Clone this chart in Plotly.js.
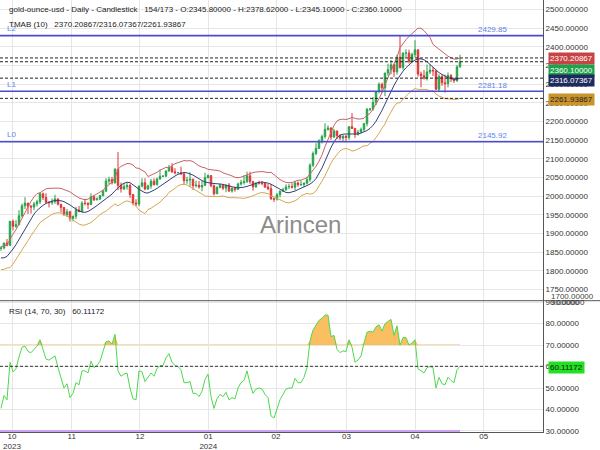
<!DOCTYPE html>
<html><head><meta charset="utf-8">
<script src="https://cdn.plot.ly/plotly-3.0.1.min.js"></script>
<style>html,body{margin:0;padding:0;background:#fff}#chart{width:600px;height:450px}</style>
</head><body><div id="chart"></div>
<script>
// ---- trading days (categories) ----
const daysOct2023 = [10,11,12,13,16,17,18,19,20,23,24,25,26,27,30,31];
const daysNov2023 = [1,2,3,6,7,8,9,10,13,14,15,16,17,20,21,22,23,24,27,28,29,30];
const daysDec2023 = [1,4,5,6,7,8,11,12,13,14,15,18,19,20,21,22,25,26,27,28,29];
const daysJan2024 = [1,2,3,4,5,8,9,10,11,12,15,16,17,18,19,22,23,24,25,26,29,30,31];
const daysFeb2024 = [1,2,5,6,7,8,9,12,13,14,15,16,19,20,21,22,23,26,27,28,29];
const daysMar2024 = [1,4,5,6,7,8,11,12,13,14,15,18,19,20,21,22,25,26,27,28,29];
const daysApr2024 = [1,2,3,4,5,8,9,10,11,12,15,16,17,18,19,22,23,24,25,26,29,30];
const daysMay2024 = [1,2,3,6,7,8,9,10];

// ---- OHLC ----
const open = [
1860.5,1860.9,1874.4,1868.5,1932.7,1919.4,1923.6,1947.6,1974.2,1981.4,
1972.9,1970.9,1979.2,1985.0,2006.3,1996.4,1983.9,1982.4,1985.6,1992.5,
1978.3,1969.8,1950.2,1958.2,1940.4,1946.4,1963.2,1958.9,1981.0,1980.5,
1977.8,1998.3,1990.2,1992.6,2001.5,2013.2,2040.5,2044.3,2036.2,2071.9,
2029.0,2019.2,2025.4,2028.3,2004.4,1981.6,1979.1,2027.2,2035.8,2019.3,
2027.5,2040.0,2030.9,2045.7,2053.1,2053.6,2067.5,2077.5,2065.3,2062.9,
2063.0,2059.1,2041.7,2043.1,2045.4,2028.0,2029.3,2024.4,2028.6,2049.1,
2055.2,2028.1,2006.3,2022.9,2029.3,2021.5,2029.6,2013.9,2020.9,2018.2,
2032.4,2036.7,2039.0,2054.8,2039.5,2024.9,2035.2,2035.0,2033.9,2024.4,
2020.1,1992.9,1991.8,2004.0,2013.2,2017.2,2024.8,2025.9,2024.1,2035.2,
2030.9,2031.1,2034.7,2044.1,2082.9,2114.3,2127.9,2148.1,2159.8,2178.8,
2182.7,2158.2,2174.7,2162.1,2155.5,2160.3,2157.2,2186.2,2181.4,2165.5,
2171.7,2178.6,2194.5,2232.7,2233.5,2251.4,2279.9,2299.6,2290.1,2329.7,
2338.6,2352.1,2333.2,2372.1,2344.3,2383.1,2383.5,2361.2,2379.3,2391.9,
2327.2,2322.4,2316.5,2332.4,2337.5,2335.7,2286.3,2320.2,2303.8,2301.3,
2323.4,2314.4,2309.3,2345.8];
const high = [
1865.8,1875.4,1885.3,1933.0,1937.4,1935.9,1962.5,1980.2,1997.2,1981.6,
1976.6,1984.6,1990.4,2009.4,2009.6,2007.8,1986.5,1993.8,2003.8,1994.3,
1979.0,1971.3,1965.8,1961.0,1947.2,1971.0,1973.8,1986.6,1993.1,1984.1,
2007.7,2002.4,1996.5,2003.1,2017.1,2048.0,2052.1,2051.5,2075.3,2118.0,
2036.6,2035.3,2035.0,2033.5,2005.2,1991.6,2028.4,2047.8,2047.7,2030.8,
2046.2,2047.6,2049.5,2071.3,2055.0,2068.7,2083.6,2088.5,2074.8,2064.0,
2079.0,2064.9,2052.0,2064.0,2046.7,2041.4,2040.8,2041.9,2062.6,2058.3,
2056.0,2031.4,2026.8,2034.0,2030.4,2031.6,2035.2,2023.3,2025.6,2036.2,
2043.9,2055.5,2065.6,2065.5,2040.4,2036.5,2041.0,2040.5,2037.6,2032.2,
2032.8,1996.3,2008.2,2015.2,2022.7,2031.6,2033.1,2034.6,2041.1,2039.6,
2041.6,2036.9,2052.1,2088.2,2119.6,2141.7,2152.4,2164.8,2195.2,2189.4,
2184.8,2180.1,2175.0,2165.3,2163.9,2163.4,2186.4,2222.6,2183.0,2176.8,
2183.7,2195.3,2236.1,2236.0,2265.6,2281.6,2305.0,2304.0,2330.6,2354.4,
2365.1,2354.8,2378.7,2431.5,2385.3,2393.4,2392.3,2384.4,2417.8,2392.7,
2333.6,2337.9,2352.5,2353.0,2345.8,2336.1,2326.4,2326.6,2325.4,2331.3,
2326.6,2318.0,2351.2,2378.62];
const low = [
1853.5,1857.6,1865.7,1866.1,1908.5,1914.6,1922.3,1942.5,1965.5,1952.4,
1953.6,1962.2,1972.3,1979.0,1989.7,1980.6,1970.0,1976.4,1979.5,1975.3,
1956.0,1947.3,1944.0,1931.9,1932.5,1938.3,1956.6,1956.7,1975.3,1965.3,
1975.7,1987.0,1988.8,1989.6,1999.3,2011.8,2031.9,2031.4,2033.4,2016.0,
2009.5,2016.6,2017.6,1995.5,1975.9,1973.2,1973.3,2023.2,2015.6,2016.4,
2019.8,2028.4,2028.3,2044.2,2051.8,2051.7,2065.7,2062.2,2058.1,2061.0,
2057.7,2030.6,2033.0,2024.0,2016.9,2023.4,2020.3,2013.3,2027.5,2048.2,
2023.8,2001.8,2005.9,2021.4,2016.1,2010.5,2011.0,2009.4,2012.0,2016.0,
2028.3,2030.9,2035.2,2032.9,2014.9,2022.5,2030.9,2029.0,2021.7,2016.2,
1990.1,1984.3,1988.2,1996.6,2011.0,2014.6,2019.0,2020.4,2016.0,2025.2,
2027.6,2024.3,2031.3,2038.5,2078.3,2109.9,2126.3,2141.0,2154.4,2175.4,
2150.6,2156.5,2152.6,2149.7,2146.7,2145.6,2150.7,2179.9,2155.9,2162.3,
2169.1,2172.3,2186.9,2228.0,2228.5,2243.4,2275.0,2275.9,2267.8,2321.6,
2326.1,2319.4,2325.5,2342.3,2338.5,2372.3,2355.3,2360.9,2372.1,2320.0,
2291.5,2311.9,2309.5,2327.2,2321.9,2285.5,2280.6,2295.6,2277.2,2291.3,
2305.7,2303.2,2306.0,2345.1];
const close = [
1860.9,1874.4,1868.5,1932.7,1919.4,1923.6,1947.6,1974.2,1981.4,1972.9,
1970.9,1979.2,1985.0,2006.3,1996.4,1983.9,1982.4,1985.6,1992.5,1978.3,
1969.8,1950.2,1958.2,1940.4,1946.4,1963.2,1958.9,1981.0,1980.5,1977.8,
1998.3,1990.2,1992.6,2001.5,2013.2,2040.5,2044.3,2036.2,2071.9,2029.0,
2019.2,2025.4,2028.3,2004.4,1981.6,1979.1,2027.2,2035.8,2019.3,2027.5,
2040.0,2030.9,2045.7,2053.1,2053.6,2067.5,2077.5,2065.3,2062.9,2063.0,
2059.1,2041.7,2043.1,2045.4,2028.0,2029.3,2024.4,2028.6,2049.1,2055.2,
2028.1,2006.3,2022.9,2029.3,2021.5,2029.6,2013.9,2020.9,2018.2,2032.4,
2036.7,2039.0,2054.8,2039.5,2024.9,2035.2,2035.0,2033.9,2024.4,2020.1,
1992.9,1991.8,2004.0,2013.2,2017.2,2024.8,2025.9,2024.1,2035.2,2030.9,
2031.1,2034.7,2044.1,2082.9,2114.3,2127.9,2148.1,2159.8,2178.8,2182.7,
2158.2,2174.7,2162.1,2155.5,2160.3,2157.2,2186.2,2181.4,2165.5,2171.7,
2178.6,2194.5,2232.7,2233.5,2251.4,2279.9,2299.6,2290.1,2329.7,2338.6,
2352.1,2333.2,2372.1,2344.3,2383.1,2383.5,2361.2,2379.3,2391.9,2327.2,
2322.4,2316.5,2332.4,2337.5,2335.7,2286.3,2320.2,2303.8,2301.3,2323.4,
2314.4,2309.3,2346.2,2360.1];

// ---- TMAB (10) bands ----
const tmabUpper = [
1865.5,1865.9,1869.7,1886.3,1898.4,1910.4,1925.6,1942.6,1958.5,1973.0,
1986.0,1998.0,2006.9,2009.1,2015.5,2019.5,2021.0,2021.6,2022.3,2021.6,
2020.7,2018.2,2015.8,2011.5,2005.6,2000.1,1995.3,1992.4,1990.7,1991.9,
1997.4,2002.1,2005.9,2010.6,2016.1,2024.0,2030.6,2037.5,2049.4,2072.1,
2079.9,2084.6,2087.3,2087.2,2083.3,2075.5,2074.5,2069.4,2065.1,2052.5,
2055.6,2059.1,2063.9,2069.6,2072.6,2077.1,2076.0,2082.5,2087.0,2089.6,
2093.1,2095.4,2094.4,2095.2,2092.5,2086.5,2081.2,2077.7,2076.0,2071.8,
2071.7,2070.0,2068.8,2067.3,2062.6,2060.1,2057.9,2054.2,2050.3,2049.4,
2050.9,2054.1,2057.2,2060.1,2063.1,2064.8,2066.0,2065.8,2064.8,2063.0,
2064.0,2056.6,2050.4,2044.5,2040.0,2036.8,2036.1,2036.5,2039.6,2042.6,
2042.9,2046.4,2049.4,2059.4,2069.4,2080.1,2093.5,2110.4,2132.8,2151.9,
2172.3,2189.3,2201.7,2205.4,2206.1,2205.5,2207.3,2210.8,2208.5,2206.5,
2206.9,2208.7,2216.8,2221.6,2233.6,2245.7,2260.5,2277.9,2299.7,2317.3,
2336.6,2353.6,2371.9,2397.7,2409.8,2419.0,2427.8,2434.7,2440.4,2449.9,
2449.8,2443.2,2434.0,2424.9,2406.4,2399.6,2394.0,2386.9,2381.1,2374.7,
2370.9,2367.0,2367.5,2370.20867];
const tmabMiddle = [
1834.5,1834.9,1838.7,1847.3,1858.4,1870.4,1883.6,1898.6,1913.5,1927.0,
1940.0,1952.0,1961.9,1969.1,1975.5,1980.5,1984.0,1986.6,1988.3,1988.6,
1987.7,1985.2,1981.8,1976.5,1970.6,1965.1,1960.3,1957.4,1956.7,1958.9,
1963.4,1969.1,1974.9,1980.6,1986.1,1992.0,1998.6,2005.5,2014.4,2023.1,
2029.9,2034.6,2037.3,2036.2,2031.3,2024.5,2018.5,2013.4,2009.1,2008.5,
2011.6,2016.1,2020.9,2026.6,2032.6,2038.1,2043.0,2048.5,2054.0,2058.6,
2062.1,2063.4,2062.4,2060.2,2056.5,2051.5,2046.2,2041.7,2038.0,2035.8,
2034.7,2034.0,2033.8,2033.3,2031.6,2029.1,2026.9,2025.2,2023.3,2022.4,
2022.9,2024.1,2026.2,2029.1,2032.1,2034.8,2037.0,2037.8,2036.8,2035.0,
2032.0,2027.6,2022.4,2017.5,2013.0,2009.8,2009.1,2010.5,2013.6,2017.6,
2021.9,2025.4,2028.4,2032.4,2038.4,2047.1,2059.5,2075.4,2093.8,2112.9,
2130.3,2145.3,2156.7,2163.4,2166.1,2166.5,2166.3,2165.8,2165.5,2166.5,
2168.9,2171.7,2175.8,2181.6,2189.6,2200.7,2214.5,2229.9,2246.7,2264.3,
2281.6,2296.6,2310.9,2323.7,2334.8,2344.0,2351.8,2358.7,2364.4,2367.9,
2367.8,2365.2,2360.0,2352.9,2344.4,2336.6,2331.0,2325.9,2321.1,2317.7,
2314.9,2313.0,2313.5,2316.07367];
const tmabLower = [
1803.5,1803.9,1807.7,1808.3,1818.4,1830.4,1841.6,1854.6,1868.5,1881.0,
1894.0,1906.0,1916.9,1929.1,1935.5,1941.5,1947.0,1951.6,1954.3,1955.6,
1954.7,1952.2,1947.8,1941.5,1935.6,1930.1,1925.3,1922.4,1922.7,1925.9,
1929.4,1936.1,1943.9,1950.6,1956.1,1960.0,1966.6,1973.5,1979.4,1974.1,
1979.9,1984.6,1987.3,1985.2,1979.3,1973.5,1962.5,1957.4,1953.1,1964.5,
1967.6,1973.1,1977.9,1983.6,1992.6,1999.1,2010.0,2014.5,2021.0,2027.6,
2031.1,2031.4,2030.4,2025.2,2020.5,2016.5,2011.2,2005.7,2000.0,1999.8,
1997.7,1998.0,1998.8,1999.3,2000.6,1998.1,1995.9,1996.2,1996.3,1995.4,
1994.9,1994.1,1995.2,1998.1,2001.1,2004.8,2008.0,2009.8,2008.8,2007.0,
2000.0,1998.6,1994.4,1990.5,1986.0,1982.8,1982.1,1984.5,1987.6,1992.6,
2000.9,2004.4,2007.4,2005.4,2007.4,2014.1,2025.5,2040.4,2054.8,2073.9,
2088.3,2101.3,2111.7,2121.4,2126.1,2127.5,2125.3,2120.8,2122.5,2126.5,
2130.9,2134.7,2134.8,2141.6,2145.6,2155.7,2168.5,2181.9,2193.7,2211.3,
2226.6,2239.6,2249.9,2249.7,2259.8,2269.0,2275.8,2282.7,2288.4,2285.9,
2285.8,2287.2,2286.0,2280.9,2282.4,2273.6,2268.0,2264.9,2261.1,2260.7,
2258.9,2259.0,2259.5,2261.93867];

// ---- RSI (14) ----
const rsi = [
40.5,46.5,44.5,62,57.5,59,64.5,69,69.5,67,
66.5,68,69.5,72.5,67.5,63.5,63,63.8,65,59.5,
55,50,52,45.5,47.5,52.5,51.5,58,58,57,
62.5,59.5,60.5,62.5,67,71.5,72,70.5,75,58,
55.5,56.5,57,50,45,44.5,58,57.5,53,55,
57,55.5,59,60.5,60.5,64,66,62,60.5,60,
58.5,52.5,52.5,53,47.5,47.5,46,48.5,54,56.5,
46,40.5,45,47,46,48,44.5,45.5,45,50,
52.5,53.5,58,52,47.5,49.5,50,49.5,47,45.5,
37,36,40,44.5,47,49.5,50,50,54.5,52.5,
52.5,55,59.5,72,77,79.5,81.5,82.5,84,84,
74,74.5,68,66.5,67.3,67,72.5,69,62,63,
65,71,76,76.5,76,78.5,79.5,76.5,80,81,
82,74.5,79,70,73.5,73.5,70,71,72.5,59,
58,57,59.5,60,59.5,50,55,52,51.5,55,
53.5,52.5,58.5,60.11172];

const rsiUpperLevel = 70, rsiLowerLevel = 30, rsiTopTick = 90;
const levelValues = [2145.92, 2281.18, 2429.85];
const levelNames = ['L0', 'L1', 'L2'];
const monthLabels = ['10<br>2023', '11', '12', '01<br>2024', '02', '03', '04', '05'];
const symbolName = 'gold-ounce-usd - Daily - Candlestick';
const barCounter = '154/173';

// ---- build categories ----
function pad(n){ return (n < 10 ? '0' : '') + n; }
const dates = [].concat(
  daysOct2023.map(d => '2023-10-' + pad(d)),
  daysNov2023.map(d => '2023-11-' + pad(d)),
  daysDec2023.map(d => '2023-12-' + pad(d)),
  daysJan2024.map(d => '2024-01-' + pad(d)),
  daysFeb2024.map(d => '2024-02-' + pad(d)),
  daysMar2024.map(d => '2024-03-' + pad(d)),
  daysApr2024.map(d => '2024-04-' + pad(d)),
  daysMay2024.map(d => '2024-05-' + pad(d))
);
const n = dates.length;
const lastO = open[n-1], lastH = high[n-1], lastL = low[n-1], lastC = close[n-1];
const lastU = tmabUpper[n-1], lastM = tmabMiddle[n-1], lastLo = tmabLower[n-1], lastR = rsi[n-1];

const GREEN = '#26a24a', RED = '#dd3535';
const NB = '\u00a0';

const traces = [
  {type:'scatter', mode:'lines', x:dates, y:tmabUpper, line:{color:'#c86464', width:1}, hoverinfo:'skip', xaxis:'x', yaxis:'y'},
  {type:'scatter', mode:'lines', x:dates, y:tmabMiddle, line:{color:'#34407a', width:1}, hoverinfo:'skip', xaxis:'x', yaxis:'y'},
  {type:'scatter', mode:'lines', x:dates, y:tmabLower, line:{color:'#d6a852', width:1}, hoverinfo:'skip', xaxis:'x', yaxis:'y'},
  {type:'candlestick', x:dates, open:open, high:high, low:low, close:close, xaxis:'x', yaxis:'y',
   increasing:{line:{color:GREEN, width:1}, fillcolor:GREEN},
   decreasing:{line:{color:RED, width:1}, fillcolor:RED},
   whiskerwidth:0, hoverinfo:'skip'},
  {type:'scatter', mode:'lines', x:dates, y:rsi.map(() => rsiUpperLevel), line:{width:0, color:'rgba(0,0,0,0)'}, hoverinfo:'skip', xaxis:'x', yaxis:'y2'},
  {type:'scatter', mode:'lines', x:dates, y:rsi.map(v => Math.max(v, rsiUpperLevel)), fill:'tonexty', fillcolor:'rgba(248,184,80,0.9)', line:{width:0, color:'rgba(0,0,0,0)'}, hoverinfo:'skip', xaxis:'x', yaxis:'y2'},
  {type:'scatter', mode:'lines', x:dates, y:rsi, line:{color:'#4cd84c', width:1}, hoverinfo:'skip', xaxis:'x', yaxis:'y2'}
];

const PH = 432; // plot area height in px
const sep = 1 - 300.7 / PH;

const shapes = [];
shapes.push({type:'line', xref:'paper', yref:'paper', x0:0, x1:600/543, y0:sep, y1:sep, line:{color:'#555', width:1}});
levelValues.forEach(v => shapes.push({type:'line', xref:'paper', yref:'y', x0:0, x1:1, y0:v, y1:v, line:{color:'#4b4bd2', width:1.6}}));
[lastU, lastC, lastM, lastLo].forEach(v => shapes.push({type:'line', xref:'paper', yref:'y', x0:0, x1:1, y0:v, y1:v, line:{color:'#222', width:1, dash:'3px,2px'}}));
shapes.push({type:'line', xref:'x', yref:'y2', x0:-0.4, x1:dates[n-1], y0:rsiUpperLevel, y1:rsiUpperLevel, line:{color:'#f7d68f', width:1.5}, layer:'below'});
shapes.push({type:'line', xref:'x', yref:'y2', x0:-0.4, x1:dates[n-1], y0:rsiLowerLevel, y1:rsiLowerLevel, line:{color:'#c9a3f2', width:2}});
shapes.push({type:'line', xref:'paper', yref:'y2', x0:0, x1:1, y0:lastR, y1:lastR, line:{color:'#333', width:1, dash:'3px,2px'}});

const annotations = [];
const hdrFont = {size:8, color:'#222'};
annotations.push({xref:'paper', yref:'paper', x:7/543, y:1-9/PH, xanchor:'left', yanchor:'middle', showarrow:false, font:hdrFont,
  text: symbolName + NB+NB+NB + barCounter + ' - O:' + lastO.toFixed(5) + ' - H:' + lastH.toFixed(5) + ' - L:' + lastL.toFixed(5) + ' - C:' + lastC.toFixed(5)});
const lvlFont = {size:8, color:'#5b86e5'};
levelValues.forEach((v, i) => {
  annotations.push({xref:'paper', yref:'y', x:5/543, y:v, xanchor:'left', yanchor:'middle', yshift:7, showarrow:false, font:lvlFont, text:levelNames[i]});
  annotations.push({xref:'paper', yref:'y', x:509/543, y:v, xanchor:'right', yanchor:'middle', yshift:6, showarrow:false, font:lvlFont, text:v.toFixed(2)});
});
annotations.push({xref:'paper', yref:'paper', x:7/543, y:1-25/PH, xanchor:'left', yanchor:'middle', showarrow:false, font:hdrFont,
  text:'TMAB (10)' + NB+NB+NB + lastU.toFixed(5) + '/' + lastM.toFixed(5) + '/' + lastLo.toFixed(5)});
annotations.push({xref:'paper', yref:'paper', x:7/543, y:1-311/PH, xanchor:'left', yanchor:'middle', showarrow:false, font:hdrFont,
  text:'RSI (14, 70, 30)' + NB+NB+NB + lastR.toFixed(5)});
annotations.push({xref:'paper', yref:'paper', x:300/543, y:1-224/PH, xanchor:'center', yanchor:'middle', showarrow:false,
  font:{size:24, color:'#8c8c8c'}, text:'Arincen'});
annotations.push({xref:'paper', yref:'paper', x:1, xshift:6, y:1-296.5/PH, xanchor:'left', yanchor:'middle', showarrow:false, font:{size:8, color:'#444'}, text:(1700).toFixed(5)});
annotations.push({xref:'paper', yref:'y2', x:1, xshift:6, y:rsiTopTick, xanchor:'left', yanchor:'middle', showarrow:false, font:{size:8, color:'#333'}, text:rsiTopTick.toFixed(5)});
function box(v, yref, shift, bg, fg){
  annotations.push({xref:'paper', yref:yref, x:1, xshift:5, y:v, yshift:shift, xanchor:'left', yanchor:'middle', showarrow:false,
    text:v.toFixed(5), font:{size:8, color:fg}, bgcolor:bg, borderpad:1});
}
box(lastU, 'y', -1, '#c84444', '#fff');
box(lastC, 'y', -8.5, '#20a24a', '#fff');
box(lastM, 'y', -2.8, '#1e2b5e', '#fff');
box(lastLo, 'y', -1.3, '#c9942a', '#222');
box(lastR, 'y2', -1.5, '#22e022', '#111');

const layout = {
  width:600, height:450,
  margin:{l:0, r:57, t:0, b:18, pad:0},
  paper_bgcolor:'#fff', plot_bgcolor:'#fff',
  font:{family:'Liberation Sans, Arial, sans-serif', size:8, color:'#333'},
  showlegend:false,
  xaxis:{type:'category', range:[-0.333, 180.667], tickmode:'array',
    tickvals:[3.67, 23.57, 46.33, 69.1, 91.67, 115.17, 138, 160.9], ticktext:monthLabels,
    showgrid:true, gridcolor:'#e6e6e6', gridwidth:1, zeroline:false, showline:true, linecolor:'#555', linewidth:1,
    ticks:'', ticklabelstandoff:-4, tickfont:{size:8, color:'#333'}, rangeslider:{visible:false}, anchor:'y2', fixedrange:true},
  yaxis:{domain:[sep, 1], range:[1720, 2525.4], side:'right', dtick:50, tick0:0, tickformat:'.5f',
    showgrid:true, gridcolor:'#e6e6e6', gridwidth:1, zeroline:false, showline:true, linecolor:'#555', linewidth:1,
    ticks:'', tickfont:{size:8, color:'#333'}, ticklabeloverflow:'allow', anchor:'x', fixedrange:true},
  yaxis2:{domain:[0, sep], range:[29.5, 90.7], side:'right', dtick:10, tick0:0, tickformat:'.5f',
    showgrid:true, gridcolor:'#e6e6e6', gridwidth:1, zeroline:false, showline:true, linecolor:'#555', linewidth:1,
    ticks:'', tickfont:{size:8, color:'#333'}, ticklabeloverflow:'allow', anchor:'x', fixedrange:true},
  shapes:shapes, annotations:annotations
};

Plotly.newPlot('chart', traces, layout, {staticPlot:true, displayModeBar:false});
</script>
</body></html>
